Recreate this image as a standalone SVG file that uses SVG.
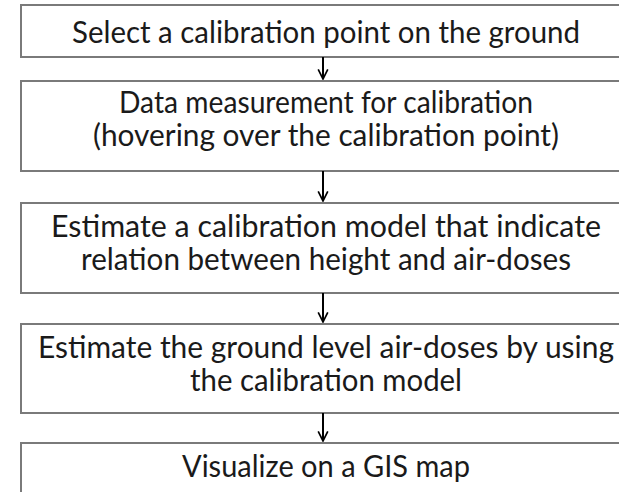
<svg xmlns="http://www.w3.org/2000/svg" width="619" height="492" viewBox="0 0 619 492">
<defs>
<style>
.box{fill:#ffffff;stroke:#7a7a7a;stroke-width:2}
.lbl{font-family:Lato,"Open Sans","Liberation Sans",sans-serif;font-size:30px;fill:#1a1a1a;text-anchor:middle}
.conn{stroke:#000000;stroke-width:2;fill:none}
</style>
<marker id="arr" viewBox="0 0 10 10" refX="9" refY="5" markerWidth="6" markerHeight="6" orient="auto" markerUnits="strokeWidth">
<path d="M1,1 L9,5 L1,9" fill="none" stroke="#000000" stroke-width="1.4"/>
</marker>
</defs>
<rect width="619" height="492" fill="#ffffff"/>
<g id="node1">
<rect class="box" x="21" y="5" width="640" height="52"/>
<text class="lbl" x="326" y="43" textLength="508" lengthAdjust="spacingAndGlyphs">Select a calibration point on the ground</text>
</g>
<g id="node2">
<rect class="box" x="21" y="81" width="640" height="90"/>
<text class="lbl" x="326" y="113" textLength="414" lengthAdjust="spacingAndGlyphs">Data measurement for calibration</text>
<text class="lbl" x="326" y="146" textLength="466" lengthAdjust="spacingAndGlyphs">(hovering over the calibration point)</text>
</g>
<g id="node3">
<rect class="box" x="21" y="203" width="640" height="90"/>
<text class="lbl" x="326" y="237" textLength="550" lengthAdjust="spacingAndGlyphs">Estimate a calibration model that indicate</text>
<text class="lbl" x="326" y="270" textLength="490" lengthAdjust="spacingAndGlyphs">relation between height and air-doses</text>
</g>
<g id="node4">
<rect class="box" x="21" y="324" width="640" height="89"/>
<text class="lbl" x="326" y="358" textLength="576" lengthAdjust="spacingAndGlyphs">Estimate the ground level air-doses by using</text>
<text class="lbl" x="326" y="391" textLength="272" lengthAdjust="spacingAndGlyphs">the calibration model</text>
</g>
<g id="node5">
<rect class="box" x="21" y="443" width="640" height="80"/>
<text class="lbl" x="326" y="477" textLength="288" lengthAdjust="spacingAndGlyphs">Visualize on a GIS map</text>
</g>
<g id="connectors">
<line class="conn" x1="323" y1="57" x2="323" y2="79" marker-end="url(#arr)"/>
<line class="conn" x1="323" y1="171" x2="323" y2="201" marker-end="url(#arr)"/>
<line class="conn" x1="323" y1="293" x2="323" y2="322" marker-end="url(#arr)"/>
<line class="conn" x1="323" y1="413" x2="323" y2="441" marker-end="url(#arr)"/>
</g>
</svg>
